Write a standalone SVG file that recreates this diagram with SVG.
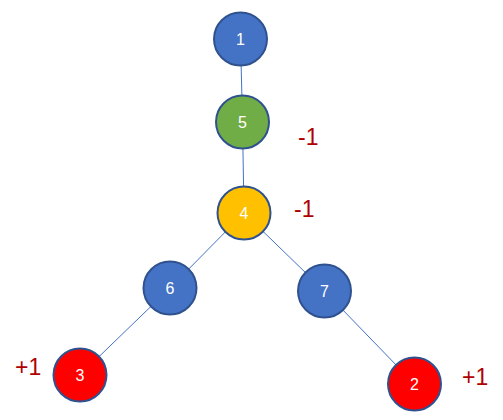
<svg xmlns="http://www.w3.org/2000/svg" width="503" height="420" viewBox="0 0 503 420">
<style>
.n{stroke:#2F528F;stroke-width:2}
.t{font-family:"Liberation Sans",Arial,sans-serif;font-size:16px;fill:#fff;text-anchor:middle}
.e{stroke:#4472C4;stroke-width:1;fill:none}
.l{font-family:"Liberation Sans",Arial,sans-serif;font-size:23px;fill:#B00000}
</style>
<rect width="503" height="420" fill="#fff"/>
<g id="edges">
<line class="e" x1="240.5" y1="39" x2="242.5" y2="122"/>
<line class="e" x1="242.5" y1="122" x2="244" y2="213"/>
<line class="e" x1="244" y1="213" x2="170" y2="288"/>
<line class="e" x1="170" y1="288" x2="80" y2="375"/>
<line class="e" x1="244" y1="213" x2="324.5" y2="291"/>
<line class="e" x1="324.5" y1="291" x2="414.5" y2="384"/>
</g>
<g id="n1"><circle class="n" cx="240.5" cy="39" r="26.5" fill="#4472C4"/><text class="t" x="240.5" y="44.5">1</text></g>
<g id="n5"><circle class="n" cx="242.5" cy="122" r="26.5" fill="#70AD47"/><text class="t" x="242.5" y="127.5">5</text></g>
<g id="n4"><circle class="n" cx="244" cy="213" r="26.5" fill="#FFC000"/><text class="t" x="244" y="218.5">4</text></g>
<g id="n6"><circle class="n" cx="170" cy="288" r="26.5" fill="#4472C4"/><text class="t" x="170" y="293.5">6</text></g>
<g id="n7"><circle class="n" cx="324.5" cy="291" r="26.5" fill="#4472C4"/><text class="t" x="324.5" y="296.5">7</text></g>
<g id="n3"><circle class="n" cx="80" cy="375" r="26.5" fill="#FF0000"/><text class="t" x="80" y="380.5">3</text></g>
<g id="n2"><circle class="n" cx="414.5" cy="384" r="26.5" fill="#FF0000"/><text class="t" x="414.5" y="389.5">2</text></g>
<g id="labels">
<text class="l" x="298" y="145">-1</text>
<text class="l" x="294" y="217">-1</text>
<text class="l" x="15" y="375">+1</text>
<text class="l" x="462" y="385">+1</text>
</g>
</svg>
